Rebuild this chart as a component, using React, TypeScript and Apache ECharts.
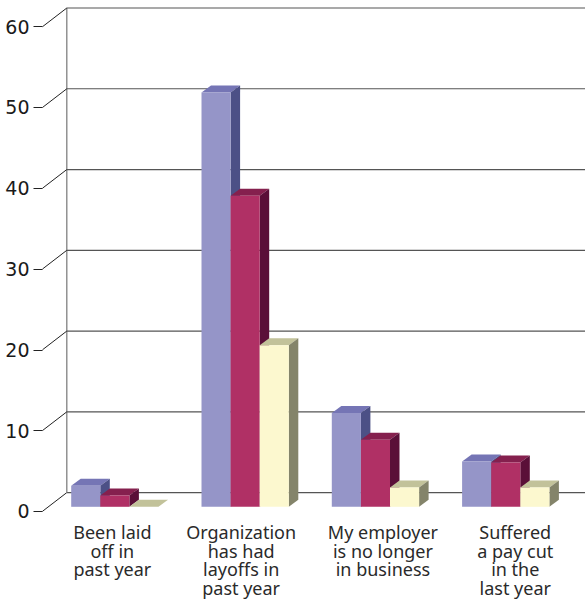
import React, { useEffect, useRef } from "react";
import * as echarts from "echarts";

const categories = [
  "Been laid\noff in\npast year",
  "Organization\nhas had\nlayoffs in\npast year",
  "My employer\nis no longer\nin business",
  "Suffered\na pay cut\nin the\nlast year",
];
const seriesA = [2.6, 51.3, 11.6, 5.6];
const seriesB = [1.4, 38.5, 8.3, 5.5];
const seriesC = [0, 20, 2.4, 2.4];
const ticks = [0, 10, 20, 30, 40, 50, 60];

const faces = [
  { front: "#9595c8", top: "#7575b5", side: "#4c5086" },
  { front: "#b03065", top: "#85204e", side: "#5a0f38" },
  { front: "#fcf8cf", top: "#c2c29a", side: "#84846a" },
];
const labelShift = [-2.5, -4, 7.5, 9.5];
const BAR_W = 29.1;
const DX = 9.5;
const DY = 7;
const FLOOR_LIFT = 4.5;
const WALL_X = 66.8;
const WALL_LIFT = 18.7;
const TICK_END = 42.5;

function barSeries(values: number[], idx: number) {
  const c = faces[idx];
  return {
    type: "custom",
    silent: true,
    data: values.map((v, i) => [i, v]),
    renderItem: (_p: any, api: any) => {
      const cat = api.value(0);
      const val = api.value(1);
      const cx = api.coord([cat, 0])[0];
      const x0 = cx - (3 * BAR_W) / 2 + idx * BAR_W;
      const x1 = x0 + BAR_W;
      const yb = api.coord([cat, 0])[1] - FLOOR_LIFT;
      const yt = api.coord([cat, val])[1] - FLOOR_LIFT;
      const poly = (points: number[][], fill: string) => ({
        type: "polygon",
        shape: { points },
        style: { fill },
      });
      return {
        type: "group",
        children: [
          poly([[x0, yt], [x1, yt], [x1 + DX, yt - DY], [x0 + DX, yt - DY]], c.top),
          poly([[x1, yt], [x1 + DX, yt - DY], [x1 + DX, yb - DY], [x1, yb]], c.side),
          poly([[x0, yt], [x1, yt], [x1, yb], [x0, yb]], c.front),
        ],
      };
    },
  };
}

const wallSeries = {
  type: "custom",
  silent: true,
  data: ticks.map((t) => [0, t]),
  renderItem: (_p: any, api: any) => {
    const val = api.value(1);
    const y = api.coord([0, val])[1];
    const yBack = y - WALL_LIFT;
    const children: any[] = [
      {
        type: "line",
        shape: { x1: TICK_END, y1: y, x2: WALL_X, y2: yBack },
        style: { stroke: "#222", lineWidth: 1 },
      },
      {
        type: "line",
        shape: { x1: WALL_X, y1: yBack, x2: 585, y2: yBack },
        style: { stroke: "#555", lineWidth: 1.2 },
      },
    ];
    if (val === 0) {
      const yTop = api.coord([0, 60])[1] - WALL_LIFT;
      children.push({
        type: "line",
        shape: { x1: WALL_X, y1: yTop, x2: WALL_X, y2: yBack },
        style: { stroke: "#808080", lineWidth: 1.3 },
      });
    }
    return { type: "group", children };
  },
};

const labelSeries = {
  type: "custom",
  silent: true,
  data: categories.map((_, i) => [i, 0]),
  renderItem: (_p: any, api: any) => {
    const i = api.value(0);
    const [x, y] = api.coord([i, 0]);
    return {
      type: "text",
      style: {
        text: categories[i],
        x: x + labelShift[i],
        y: y + 11,
        align: "center",
        verticalAlign: "top",
        fontFamily: "Noto Sans",
        fontSize: 18,
        lineHeight: 18.8,
        fill: "#2a2a2a",
      },
    };
  },
};

export default function App() {
  const ref = useRef<HTMLDivElement>(null);
  useEffect(() => {
    const chart = echarts.init(ref.current!, undefined, { renderer: "svg" });
    chart.setOption({
      animation: false,
      grid: { left: 49.7, top: 26.7, width: 521.2, height: 484.6 },
      xAxis: {
        type: "category",
        data: categories,
        axisLine: { show: false },
        axisTick: { show: false },
        axisLabel: { show: false },
      },
      yAxis: {
        type: "value",
        min: 0,
        max: 60,
        interval: 10,
        offset: 7.2,
        splitLine: { show: false },
        axisLine: { show: false },
        axisTick: { show: true, length: 9, lineStyle: { color: "#222", width: 1 } },
        axisLabel: {
          margin: 13,
          fontFamily: "DejaVu Sans",
          fontSize: 19,
          color: "#1a1a1a",
        },
      },
      series: [
        wallSeries,
        barSeries(seriesA, 0),
        barSeries(seriesB, 1),
        barSeries(seriesC, 2),
        labelSeries,
      ],
    });
    return () => chart.dispose();
  }, []);
  return (
    <div
      ref={ref}
      style={{ position: "fixed", left: 0, top: 0, width: 585, height: 599, background: "#fff" }}
    />
  );
}
